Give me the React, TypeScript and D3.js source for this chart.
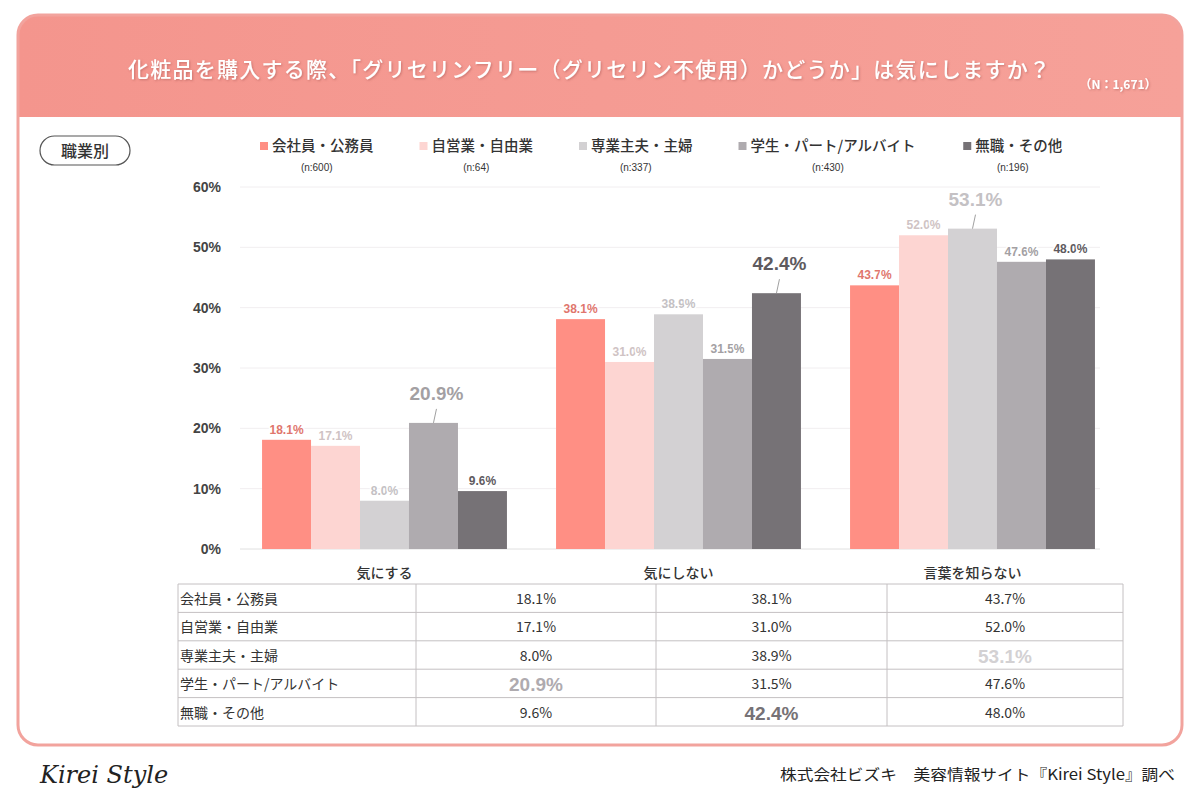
import React from "react";
import * as d3 from "d3";

const categories = ["気にする", "気にしない", "言葉を知らない"];
const groups = ["会社員・公務員", "自営業・自由業", "専業主夫・主婦", "学生・パート/アルバイト", "無職・その他"];
const sampleSizes = [600, 64, 337, 430, 196];
const employeeValues = [18.1, 38.1, 43.7];
const selfEmployedValues = [17.1, 31.0, 52.0];
const homemakerValues = [8.0, 38.9, 53.1];
const studentValues = [20.9, 31.5, 47.6];
const otherValues = [9.6, 42.4, 48.0];
const yTicks = [0, 10, 20, 30, 40, 50, 60];

const seriesValues = [employeeValues, selfEmployedValues, homemakerValues, studentValues, otherValues];
const barColors = ["#FF8F84", "#FDD5D2", "#D3D1D3", "#AFABAF", "#767276"];
const labelColors = ["#E0766D", "#CFC3C4", "#C4C1C4", "#A3A0A3", "#5E5A5E"];

const W = 1200;
const H = 800;
const jp = "'Noto Sans CJK JP', 'Noto Sans', sans-serif";
const num = "'Liberation Sans', Arial, sans-serif";

const textWidth = (s: string, size: number) =>
  Array.from(s).reduce((w, c) => w + (c.charCodeAt(0) < 256 ? size * 0.5 : size), 0);

export default function App() {
  const y = d3.scaleLinear().domain([0, 60]).range([549, 187]);
  const x0 = d3.scaleBand<string>().domain(categories).range([237.5, 1119.5]).paddingInner(0.167).paddingOuter(0.0835);
  const x1 = d3.scaleBand<string>().domain(groups).range([0, x0.bandwidth()]);

  // legend layout, items placed one after another
  let lx = 264;
  const legendItems = groups.map((g, i) => {
    const tw = textWidth(g, 14.5);
    const item = { g, i, x: lx, tw };
    lx += 12 + tw + 46;
    return item;
  });

  const tableX = [178, 416, 656, 887, 1123];
  const rowY = d3.range(6).map((i) => 584 + i * 28.4);

  return (
    <svg width={W} height={H} style={{ position: "absolute", left: 0, top: 0, background: "#fff" }}>
      <defs>
        <clipPath id="card">
          <rect x={18} y={15} width={1164} height={730} rx={20} />
        </clipPath>
        <linearGradient id="hdr" x1="0" x2="1" y1="0" y2="0">
          <stop offset="0" stopColor="#F4958D" />
          <stop offset="1" stopColor="#F6A199" />
        </linearGradient>
        <filter id="ts" x="-5%" y="-30%" width="110%" height="160%">
          <feDropShadow dx="1" dy="1" stdDeviation="0.8" floodColor="#a0504a" floodOpacity="0.5" />
        </filter>
      </defs>

      {/* card */}
      <rect x={18} y={15} width={1164} height={730} rx={20} fill="#fff" />
      <g clipPath="url(#card)">
        <rect x={18} y={15} width={1164} height={102} fill="url(#hdr)" />
      </g>
      <rect x={18} y={15} width={1164} height={730} rx={20} fill="none" stroke="#F2A39D" strokeWidth={3} />

      <text x={128} y={77} fill="#fff" fontFamily={jp} fontSize={21} fontWeight={500} filter="url(#ts)" textLength={922} lengthAdjust="spacing">
        化粧品を購入する際、「グリセリンフリー（グリセリン不使用）かどうか」は気にしますか？
      </text>
      <text x={1118} y={89} textAnchor="middle" fill="#fff" fontFamily={jp} fontSize={12} fontWeight={700} filter="url(#ts)">
        （N：1,671）
      </text>

      {/* pill */}
      <rect x={40} y={136} width={90} height={29} rx={14.5} fill="#fff" stroke="#555" strokeWidth={1.2} />
      <text x={85} y={157} textAnchor="middle" fontFamily={jp} fontSize={16} fontWeight={500} fill="#333">
        職業別
      </text>

      {/* legend */}
      {legendItems.map((d) => (
        <g key={d.g}>
          <rect x={d.x - 4} y={142} width={8} height={8} fill={barColors[d.i]} />
          <text x={d.x + 8} y={151} fontFamily={jp} fontSize={14.5} fontWeight={500} fill="#333">
            {d.g}
          </text>
          <text x={d.x + 8 + d.tw / 2 - 6} y={171} textAnchor="middle" fontFamily={num} fontSize={10} fill="#333">
            (n:{sampleSizes[d.i]})
          </text>
        </g>
      ))}

      {/* grid + y axis */}
      {yTicks.map((t) => (
        <g key={t}>
          <line x1={240} x2={1100} y1={y(t)} y2={y(t)} stroke={t === 0 ? "#e0e0e0" : "#f1eef0"} strokeWidth={1} />
          <text x={221} y={y(t) + 5} textAnchor="end" fontFamily={num} fontWeight={700} fontSize={14} fill="#444">
            {t}%
          </text>
        </g>
      ))}

      {/* bars */}
      {categories.map((c, ci) => (
        <g key={c} transform={`translate(${x0(c)},0)`}>
          {groups.map((g, gi) => (
            <rect
              key={g}
              x={x1(g)}
              y={y(seriesValues[gi][ci])}
              width={x1.bandwidth()}
              height={y(0) - y(seriesValues[gi][ci])}
              fill={barColors[gi]}
            />
          ))}
        </g>
      ))}

      {/* labels */}
      {categories.map((c, ci) => {
        const maxV = d3.max(seriesValues, (s) => s[ci]) as number;
        return (
          <g key={c} transform={`translate(${x0(c)},0)`}>
            {groups.map((g, gi) => {
              const v = seriesValues[gi][ci];
              const cx = (x1(g) as number) + x1.bandwidth() / 2;
              const top = y(v);
              const big = v === maxV;
              const ly = big ? top - 23 : top - 6;
              return (
                <g key={g}>
                  {big && <line x1={cx} x2={cx + 3} y1={top} y2={top - 14} stroke="#888" strokeWidth={0.8} />}
                  <text
                    x={cx + (big ? 3 : 0)}
                    y={ly}
                    textAnchor="middle"
                    fontFamily={num}
                    fontWeight={700}
                    fontSize={big ? 19 : 12}
                    fill={labelColors[gi]}
                    stroke="#fff"
                    strokeWidth={3}
                    paintOrder="stroke"
                  >
                    {v.toFixed(1)}%
                  </text>
                </g>
              );
            })}
          </g>
        );
      })}

      {/* category labels */}
      {categories.map((c) => (
        <text key={c} x={(x0(c) as number) + x0.bandwidth() / 2} y={578} textAnchor="middle" fontFamily={jp} fontSize={14} fontWeight={500} fill="#333">
          {c}
        </text>
      ))}

      {/* table */}
      <g>
        {rowY.map((ry) => (
          <line key={ry} x1={tableX[0]} x2={tableX[4]} y1={ry} y2={ry} stroke="#c4c0c2" strokeWidth={1} />
        ))}
        {tableX.map((tx) => (
          <line key={tx} x1={tx} x2={tx} y1={rowY[0]} y2={rowY[5]} stroke="#c4c0c2" strokeWidth={1} />
        ))}
        {groups.map((g, gi) => (
          <g key={g}>
            <text x={tableX[0] + 2} y={rowY[gi] + 20} fontFamily={jp} fontSize={14} fill="#333">
              {g}
            </text>
            {categories.map((c, ci) => {
              const v = seriesValues[gi][ci];
              const maxV = d3.max(seriesValues, (s) => s[ci]) as number;
              const big = v === maxV;
              return (
                <text
                  key={c}
                  x={(tableX[ci + 1] + tableX[ci + 2]) / 2}
                  y={rowY[gi] + (big ? 22 : 20)}
                  textAnchor="middle"
                  fontFamily={big ? num : jp}
                  fontWeight={big ? 700 : 400}
                  fontSize={big ? 19 : 14}
                  fill={big ? barColors[gi] : "#333"}
                >
                  {v.toFixed(1)}%
                </text>
              );
            })}
          </g>
        ))}
      </g>

      {/* footer */}
      <text x={40} y={783} fontFamily="'DejaVu Serif', serif" fontStyle="italic" fontSize={24} fill="#222">
        Kirei Style
      </text>
      <text x={1175} y={780} textAnchor="end" fontFamily={jp} fontSize={15} fill="#222" textLength={395} lengthAdjust="spacingAndGlyphs">
        株式会社ビズキ　美容情報サイト『Kirei Style』調べ
      </text>
    </svg>
  );
}
